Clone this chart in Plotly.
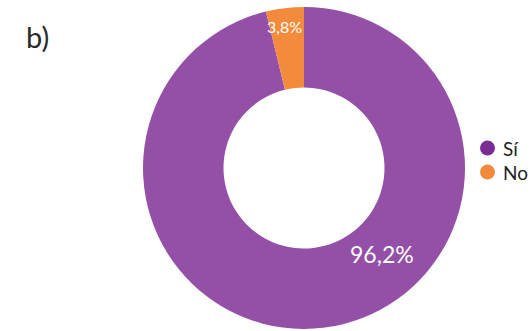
import plotly.graph_objects as go

# Survey answers and their shares (%)
labels = ["Sí", "No"]
values = [96.2, 3.8]
slice_colors = ["#9450a7", "#f28b3b"]
legend_colors = ["#7a2c93", "#f38a3b"]

FONT = "Lato"
W, H = 530, 331


def pct(v):
    return f"{v:.1f}%".replace(".", ",")


def px_x(x):
    return x / W


def px_y(y):
    return 1 - y / H


fig = go.Figure()

fig.add_trace(go.Pie(
    labels=labels,
    values=values,
    hole=0.5,
    sort=False,
    direction="clockwise",
    marker=dict(colors=slice_colors, line=dict(width=0)),
    textinfo="none",
    hoverinfo="label+percent",
    showlegend=False,
    domain=dict(x=[px_x(143), px_x(465)], y=[px_y(329), px_y(7)]),
))

# Percentage labels on the ring
label_pos = [(382, 254, 23), (284, 27, 16)]
for v, (lx, ly, sz) in zip(values, label_pos):
    fig.add_annotation(
        x=px_x(lx), y=px_y(ly), xref="paper", yref="paper", text=pct(v),
        showarrow=False, font=dict(family=FONT, size=sz, color="white"),
        xanchor="center", yanchor="middle",
    )

# Legend drawn as round swatches with text
legend_rows = [148, 172]
for lab, col, cy in zip(labels, legend_colors, legend_rows):
    fig.add_shape(
        type="circle", xref="paper", yref="paper",
        x0=px_x(480), x1=px_x(495), y0=px_y(cy + 7.5), y1=px_y(cy - 7.5),
        fillcolor=col, line=dict(width=0),
    )
    fig.add_annotation(
        x=px_x(501), y=px_y(cy), xref="paper", yref="paper", text=lab,
        showarrow=False, font=dict(family=FONT, size=19, color="#222222"),
        xanchor="left", yanchor="middle",
    )

# Panel tag
fig.add_annotation(
    x=px_x(37), y=px_y(37), xref="paper", yref="paper", text="b)",
    showarrow=False, font=dict(family=FONT, size=29, color="#2a2a2a"),
    xanchor="center", yanchor="middle",
)

fig.update_layout(
    width=W, height=H,
    margin=dict(l=0, r=0, t=0, b=0),
    paper_bgcolor="white", plot_bgcolor="white",
    showlegend=False,
)

fig.write_html("out.html")
